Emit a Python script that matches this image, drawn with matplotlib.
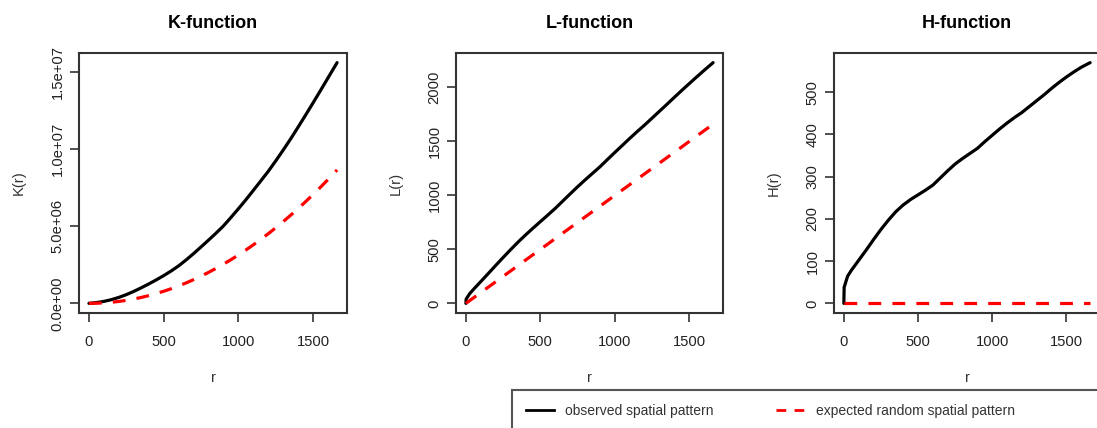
import matplotlib
matplotlib.use("Agg")
import matplotlib.pyplot as plt
from matplotlib.lines import Line2D
from matplotlib.patches import Rectangle

plt.rcParams['font.family'] = ['Liberation Sans', 'DejaVu Sans']

# distance r
r = [0, 2, 25, 50, 100, 150, 200, 250, 300, 350, 400, 450, 500, 550, 600, 650,
     700, 750, 800, 850, 900, 950, 1000, 1050, 1100, 1150, 1200, 1250, 1300,
     1350, 1400, 1450, 1500, 1550, 1600, 1660]

# K-function (observed / expected), in units of 1e6
K_obs_m = [0, 0.005, 0.025, 0.052, 0.128, 0.239, 0.387, 0.567, 0.776, 1.010,
           1.259, 1.522, 1.800, 2.102, 2.433, 2.817, 3.230, 3.664, 4.104, 4.554,
           5.027, 5.574, 6.140, 6.724, 7.335, 7.952, 8.574, 9.251, 9.954, 10.683,
           11.449, 12.229, 13.023, 13.828, 14.644, 15.623]
K_exp_m = [0, 0.00001, 0.002, 0.008, 0.031, 0.071, 0.126, 0.196, 0.283, 0.385,
           0.503, 0.636, 0.785, 0.950, 1.131, 1.327, 1.539, 1.767, 2.011, 2.270,
           2.545, 2.835, 3.142, 3.464, 3.801, 4.155, 4.524, 4.909, 5.309, 5.726,
           6.158, 6.605, 7.069, 7.548, 8.042, 8.658]

# L-function
L_obs = [0, 40, 89, 128, 202, 276, 351, 425, 497, 567, 633, 696, 757, 818, 880,
         947, 1014, 1080, 1143, 1204, 1265, 1332, 1398, 1463, 1528, 1591, 1652,
         1716, 1780, 1844, 1909, 1973, 2036, 2098, 2159, 2230]
L_exp = [0, 2, 25, 50, 100, 150, 200, 250, 300, 350, 400, 450, 500, 550, 600,
         650, 700, 750, 800, 850, 900, 950, 1000, 1050, 1100, 1150, 1200, 1250,
         1300, 1350, 1400, 1450, 1500, 1550, 1600, 1660]

# H-function
H_obs = [0, 38, 64, 78, 102, 126, 151, 175, 197, 217, 233, 246, 257, 268, 280,
         297, 314, 330, 343, 355, 367, 383, 398, 413, 427, 440, 452, 466, 480,
         494, 509, 523, 536, 548, 559, 570]
H_exp = [0] * len(r)

titles = ["K-function", "L-function", "H-function"]
ylabels = ["K(r)", "L(r)", "H(r)"]
xticks = [0, 500, 1000, 1500]
K_ticks = [0, 5e6, 1e7, 1.5e7]
K_ticklabels = ["0.0e+00", "5.0e+06", "1.0e+07", "1.5e+07"]
L_ticks = [0, 500, 1000, 1500, 2000]
H_ticks = [0, 100, 200, 300, 400, 500]
legend_labels = ["observed spatial pattern", "expected random spatial pattern"]

W, H = 1097, 428
fig = plt.figure(figsize=(W / 100, H / 100), dpi=100)

boxes = [(79, 347), (456, 723), (834, 1100)]
top_px, bot_px = 53, 313

series = [
    ([v * 1e6 for v in K_obs_m], [v * 1e6 for v in K_exp_m], K_ticks, K_ticklabels),
    (L_obs, L_exp, L_ticks, [str(t) for t in L_ticks]),
    (H_obs, H_exp, H_ticks, [str(t) for t in H_ticks]),
]

tick_col = "#222222"
lab_col = "#333333"

for i, ((x0, x1), (obs, exp, yt, ytl)) in enumerate(zip(boxes, series)):
    ax = fig.add_axes([x0 / W, 1 - bot_px / H, (x1 - x0) / W, (bot_px - top_px) / H])
    ax.plot(r, obs, color="black", lw=2.3, solid_capstyle="round")
    ax.plot(r, exp, color="#ff0000", lw=2.3, dashes=(4, 3.5))
    ax.margins(x=0.04, y=0.04)
    ax.set_xticks(xticks)
    ax.set_xticklabels([str(t) for t in xticks])
    ax.set_yticks(yt)
    ax.set_yticklabels(ytl, rotation=90, va="center")
    ax.tick_params(axis="both", length=6.5, width=1.2, color="#333333",
                   labelsize=10.6, labelcolor=tick_col)
    ax.tick_params(axis="x", pad=9.5)
    ax.tick_params(axis="y", pad=4)
    for s in ax.spines.values():
        s.set_linewidth(1.5)
        s.set_color("#333333")
    ax.set_title(titles[i], fontsize=13, fontweight="bold", pad=18)
    ax.set_xlabel("r", fontsize=10.6, color=lab_col, labelpad=16)
    ax.set_ylabel(ylabels[i], fontsize=10.6, color=lab_col, labelpad=18)

handles = [Line2D([], [], color="black", lw=2),
           Line2D([], [], color="#ff0000", lw=2, dashes=(3.5, 3))]
leg = fig.legend(handles, legend_labels, loc="upper left",
                 bbox_to_anchor=(512 / W, 1 - 390 / H), ncol=2, fontsize=10,
                 frameon=False, handlelength=2.0,
                 handletextpad=0.85, columnspacing=4.5, borderpad=1.0,
                 borderaxespad=0)
for t in leg.get_texts():
    t.set_color(lab_col)

# legend frame (extends past the figure edge as in the original)
fig.patches.append(Rectangle((512 / W, -20 / H), 620 / W, (38 + 20) / H,
                             transform=fig.transFigure, fill=False,
                             edgecolor="#555555", lw=1.5))

fig.savefig("out.png", dpi=100)
